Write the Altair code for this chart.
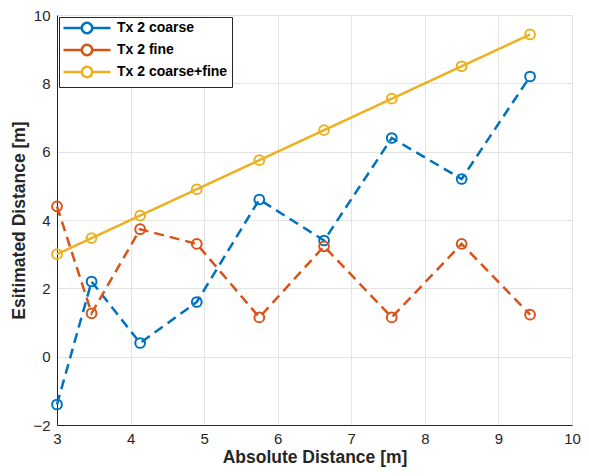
import math
import altair as alt
import pandas as pd

x_abs = [3.0, 3.47, 4.13, 4.9, 5.75, 6.63, 7.55, 8.5, 9.43]
coarse = [-1.4, 2.2, 0.4, 1.6, 4.6, 3.4, 6.4, 5.2, 8.2]
fine = [4.4, 1.27, 3.73, 3.3, 1.15, 3.23, 1.15, 3.3, 1.23]
combined = [3.0, 3.47, 4.13, 4.9, 5.75, 6.63, 7.55, 8.5, 9.43]

series_names = ["Tx 2 coarse", "Tx 2 fine", "Tx 2 coarse+fine"]
series_colors = ["#0072BD", "#D95319", "#EDB120"]
series_style = ["dashed", "dashed", "solid"]

rows = []
for name, style, ys in zip(series_names, series_style, [coarse, fine, combined]):
    for i, (xv, yv) in enumerate(zip(x_abs, ys)):
        rows.append({"series": name, "style": style, "x": xv, "y": yv, "i": i})
df = pd.DataFrame(rows)

font = "Liberation Sans"

# legend glyph: line segment with an open circle in the middle (MATLAB style)
cx, rr = 3.4, 1.04
circle = " ".join(
    ("M" if k == 0 else "L") + f"{cx + rr * math.cos(2 * math.pi * k / 24):.3f},{rr * math.sin(2 * math.pi * k / 24):.3f}"
    for k in range(25)
)
legend_path = f"M-1.3,0 L{cx - rr:.2f},0 M{cx + rr:.2f},0 L8.1,0 " + circle + " Z"

xs = alt.X("x:Q", scale=alt.Scale(domain=[3, 10], nice=False),
           axis=alt.Axis(title="Absolute Distance [m]", values=list(range(3, 11)),
                         labelFlush=False))
ys = alt.Y("y:Q", scale=alt.Scale(domain=[-2, 10], nice=False),
           axis=alt.Axis(title="Esitimated Distance [m]", values=list(range(-2, 11, 2)),
                         labelFlush=False))
color = alt.Color("series:N", scale=alt.Scale(domain=series_names, range=series_colors),
                  legend=alt.Legend(title=None, orient="top-left", offset=2,
                                    symbolType=legend_path, symbolSize=100,
                                    symbolStrokeWidth=2.5, symbolFillColor="white",
                                    symbolDash=[1, 0],
                                    labelFont=font, labelFontSize=14, labelFontWeight="bold",
                                    labelColor="#000000", fillColor="white",
                                    strokeColor="#262626", padding=4, rowPadding=0,
                                    labelOffset=40))

lines = alt.Chart(df).mark_line(strokeWidth=2.5).encode(
    x=xs, y=ys, color=color,
    strokeDash=alt.StrokeDash("style:N", scale=alt.Scale(domain=["dashed", "solid"],
                                                          range=[[10, 6], [1, 0]]), legend=None),
    order="i:Q",
)
points = alt.Chart(df).mark_point(filled=False, size=95, strokeWidth=2, opacity=1).encode(
    x=xs, y=ys, color=color,
)

chart = alt.layer(lines, points).properties(
    width=515, height=410,
    autosize=alt.AutoSizeParams(type="none"),
    padding={"left": 49, "top": 7, "right": 9, "bottom": 43},
).configure_view(stroke="#d9d9d9", strokeWidth=1).configure_axis(
    labelFont=font, labelFontSize=15, labelColor="#262626",
    titleFont=font, titleFontSize=17.5, titleFontWeight="bold", titleColor="#262626",
    domainColor="#262626", domainWidth=1, gridColor="#e3e3e3", gridWidth=1,
    ticks=False,
).configure_axisX(labelPadding=6, titlePadding=2).configure_axisY(labelPadding=7, titlePadding=4)

chart.save("out.html", embed_options={"renderer": "svg", "actions": False})
